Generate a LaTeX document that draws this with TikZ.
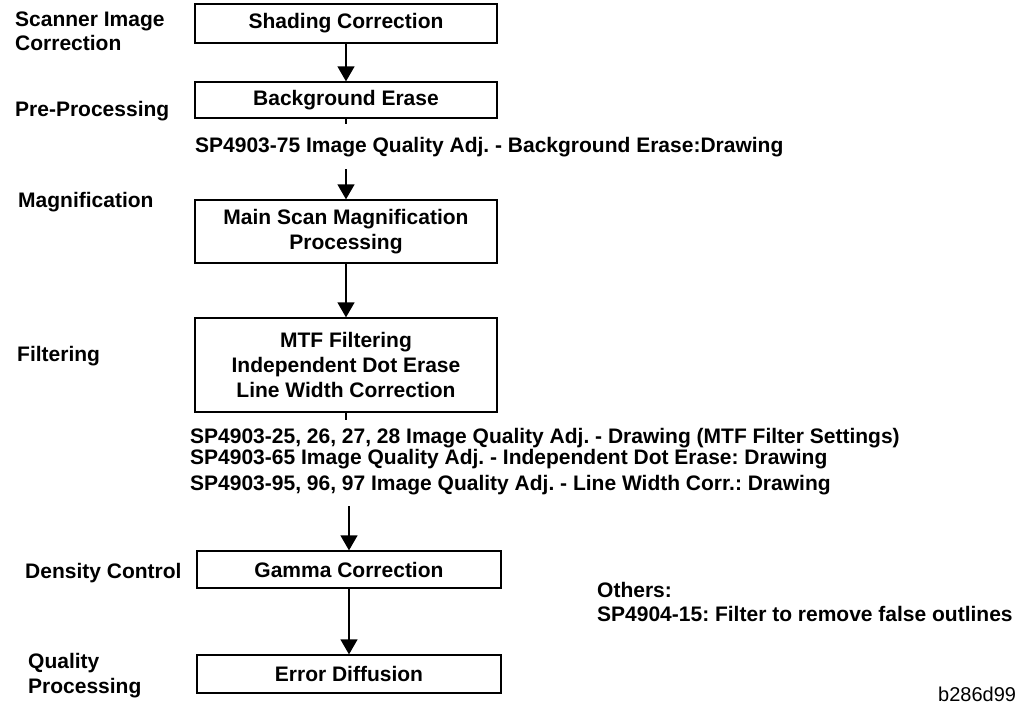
\documentclass[tikz,border=0pt]{standalone}
\usepackage{fontspec}
\setmainfont{Liberation Sans}
\usetikzlibrary{arrows.meta}
\frenchspacing
\begin{document}
\begin{tikzpicture}[x=1pt,y=-1pt,
  every node/.style={font=\fontsize{21}{25}\selectfont\bfseries\frenchspacing, inner sep=0pt},
  stepbox/.style={draw, line width=1.3pt, minimum width=302pt, align=center},
  lbl/.style={anchor=base west},
  arr/.style={line width=1.3pt, -{Triangle[width=17pt,length=15pt]}},
  ln/.style={line width=1.3pt}]
\useasboundingbox (0,0) rectangle (1018,705);
% process boxes
\node[stepbox, minimum height=39pt] (sc) at (346,23.5) {Shading Correction};
\node[stepbox, minimum height=36pt] (bg) at (346,100) {Background Erase};
\node[stepbox, minimum height=63pt] (ms) at (346,231.5) {Main Scan Magnification\\Processing};
\node[stepbox, minimum height=94pt] (mtf) at (346,365) {MTF Filtering\\Independent Dot Erase\\Line Width Correction};
\node[stepbox, minimum width=304pt, minimum height=37pt] (gc) at (349,569.5) {Gamma Correction};
\node[stepbox, minimum width=304pt, minimum height=38pt] (ed) at (349,674) {Error Diffusion};
% connectors
\draw[arr] (sc) -- (bg);
\coordinate (c1) at (346,124);
\draw[ln] (bg.south) -- (c1);
\coordinate (c2) at (346,169);
\draw[arr] (c2) -- (ms.north);
\draw[arr] (ms) -- (mtf);
\coordinate (c3) at (346,420);
\draw[ln] (mtf.south) -- (c3);
\coordinate (c4) at (349,506);
\draw[arr] (c4) -- (gc.north);
\draw[arr] (gc) -- (ed);
% stage labels
\node[lbl] (l1a) at (15,26) {Scanner Image};
\node[lbl] (l1b) at (15,50.5) {Correction};
\node[lbl] (l2) at (15,116.5) {Pre-Processing};
\node[lbl] (l3) at (18,207.5) {Magnification};
\node[lbl] (l4) at (17,361.5) {Filtering};
\node[lbl] (l5) at (25,578) {Density Control};
\node[lbl] (l6a) at (28,668) {Quality};
\node[lbl] (l6b) at (28,693) {Processing};
% SP notes
\node[lbl] (r1) at (195,152) {SP4903-75 Image Quality Adj. - Background Erase:Drawing};
\node[lbl] (r2) at (190,443) {SP4903-25, 26, 27, 28 Image Quality Adj. - Drawing (MTF Filter Settings)};
\node[lbl] (r3) at (190,464) {SP4903-65 Image Quality Adj. - Independent Dot Erase: Drawing};
\node[lbl] (r4) at (190,490) {SP4903-95, 96, 97 Image Quality Adj. - Line Width Corr.: Drawing};
\node[lbl] (o1) at (597,597) {Others:};
\node[lbl] (o2) at (597,621) {SP4904-15: Filter to remove false outlines};
\node[lbl, font=\fontsize{20}{24}\selectfont] (code) at (938,701) {b286d99};
\end{tikzpicture}
\end{document}
